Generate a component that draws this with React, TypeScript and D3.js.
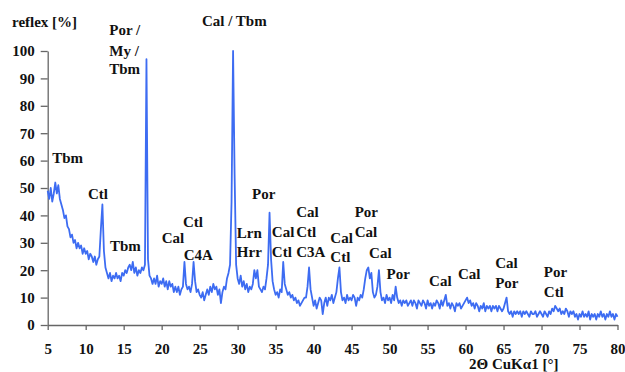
import React, { useEffect, useRef } from 'react';
import * as d3 from 'd3';

// 2-theta scan: first angle, step, intensities [%]
const START_ANGLE = 5;
const STEP = 0.2;
const reflex = [
  49, 46, 50, 45, 48, // 5
  52, 48, 51, 46, 44, // 6
  42, 39, 40, 36, 35, // 7
  32, 33, 30, 31, 28, // 8
  30, 28, 29, 26, 28, // 9
  26, 27, 24, 26, 25, // 10
  23, 25, 22, 24, 25, // 11
  35, 44, 27, 21, 19, // 12
  17, 19, 16, 18, 17, // 13
  19, 17, 18, 16, 19, // 14
  18, 20, 19, 21, 22, // 15
  20, 23, 19, 21, 18, // 16
  20, 19, 21, 20, 22, // 17
  97, 24, 18, 17, 15, // 18
  17, 15, 18, 14, 16, // 19
  15, 17, 14, 16, 13, // 20
  16, 14, 15, 12, 14, // 21
  12, 14, 11, 13, 14, // 22
  23, 15, 13, 14, 12, // 23
  15, 23, 16, 12, 13, // 24
  11, 10, 12, 9, 11, // 25
  13, 11, 14, 12, 15, // 26
  13, 14, 11, 13, 8, // 27
  12, 14, 13, 17, 19, // 28
  22, 45, 100, 55, 22, // 29
  17, 15, 18, 14, 16, // 30
  13, 15, 12, 14, 13, // 31
  15, 20, 17, 20, 14, // 32
  13, 12, 14, 13, 17, // 33
  22, 41, 24, 16, 13, // 34
  11, 12, 10, 13, 12, // 35
  23, 15, 13, 11, 12, // 36
  10, 11, 9, 10, 8, // 37
  9, 7, 8, 9, 10, // 38
  10, 14, 21, 13, 10, // 39
  7, 9, 6, 8, 10, // 40
  9, 4, 8, 10, 7, // 41
  10, 9, 11, 8, 10, // 42
  12, 17, 21, 12, 9, // 43
  10, 8, 11, 9, 10, // 44
  9, 11, 10, 7, 10, // 45
  9, 11, 10, 13, 17, // 46
  20, 21, 17, 19, 12, // 47
  10, 11, 14, 20, 12, // 48
  9, 10, 8, 11, 9, // 49
  10, 8, 11, 9, 14, // 50
  10, 8, 9, 7, 9, // 51
  8, 9, 7, 8, 9, // 52
  7, 9, 8, 6, 9, // 53
  8, 7, 9, 8, 6, // 54
  9, 7, 8, 6, 8, // 55
  7, 9, 8, 6, 9, // 56
  7, 9, 11, 7, 8, // 57
  6, 8, 7, 5, 8, // 58
  7, 8, 6, 7, 8, // 59
  9, 10, 8, 9, 7, // 60
  8, 6, 8, 7, 5, // 61
  7, 6, 8, 5, 7, // 62
  6, 7, 5, 7, 6, // 63
  7, 5, 7, 6, 5, // 64
  6, 8, 10, 5, 4, // 65
  5, 3, 5, 4, 5, // 66
  4, 5, 3, 5, 4, // 67
  5, 4, 3, 5, 4, // 68
  4, 5, 3, 4, 5, // 69
  4, 3, 5, 4, 3, // 70
  5, 4, 6, 5, 7, // 71
  6, 5, 6, 4, 5, // 72
  4, 6, 5, 3, 5, // 73
  4, 5, 3, 4, 2, // 74
  4, 3, 5, 3, 4, // 75
  3, 5, 2, 4, 3, // 76
  4, 2, 4, 3, 5, // 77
  3, 4, 2, 4, 3, // 78
  5, 3, 4, 2, 4, // 79
  3, // 80
];

const xTicks = [5, 10, 15, 20, 25, 30, 35, 40, 45, 50, 55, 60, 65, 70, 75, 80];
const yTicks = [0, 10, 20, 30, 40, 50, 60, 70, 80, 90, 100];

// phase labels: text, 2theta of left edge, reflex level of baseline
const phaseLabels: [string, number, number][] = [
  ['Tbm', 5.6, 59],
  ['Ctl', 10.3, 46],
  ['Por /', 13.1, 106],
  ['My /', 13.1, 98],
  ['Tbm', 13.1, 91.6],
  ['Tbm', 13.2, 27],
  ['Cal', 20.0, 30],
  ['Ctl', 22.8, 35.8],
  ['C4A', 22.9, 23.7],
  ['Cal / Tbm', 25.3, 109],
  ['Lrn', 29.9, 31.8],
  ['Hrr', 29.9, 24.8],
  ['Por', 31.9, 46],
  ['Cal', 34.5, 32.1],
  ['Ctl', 34.5, 24.8],
  ['Cal', 37.7, 39.4],
  ['Ctl', 37.7, 32.1],
  ['C3A', 37.7, 24.8],
  ['Cal', 42.2, 29.9],
  ['Ctl', 42.2, 23],
  ['Por', 45.4, 39.4],
  ['Cal', 45.4, 32.1],
  ['Cal', 47.3, 24.5],
  ['Por', 49.6, 16.8],
  ['Cal', 55.2, 14.2],
  ['Cal', 59.0, 16.8],
  ['Cal', 63.9, 20.8],
  ['Por', 63.9, 13.5],
  ['Por', 70.3, 17.5],
  ['Ctl', 70.3, 10.2],
];

const WIDTH = 625;
const HEIGHT = 372;
const FONT = 'Liberation Serif, DejaVu Serif, serif';
const LINE_COLOR = '#3d6cf2';
const AXIS_COLOR = '#666';

const App: React.FC = () => {
  const svgRef = useRef<SVGSVGElement>(null);

  useEffect(() => {
    document.body.style.margin = '0';
    const svg = d3.select(svgRef.current);
    svg.selectAll('*').remove();

    const x = d3.scaleLinear().domain([5, 80]).range([47.7, 617.5]);
    const y = d3.scaleLinear().domain([0, 100]).range([325, 51]);

    const points = reflex.map((v, i) => ({ angle: START_ANGLE + i * STEP, v }));

    const styleText = (sel: any) => sel
      .style('font-family', FONT)
      .style('font-weight', 'bold')
      .style('font-size', '15px')
      .attr('fill', '#111');

    // y axis
    svg.append('g')
      .attr('transform', `translate(${x(5)},0)`)
      .call(d3.axisLeft(y).tickValues(yTicks).tickSize(7).tickPadding(6).tickSizeOuter(0))
      .call(g => g.select('.domain').attr('stroke', AXIS_COLOR).attr('stroke-width', 1.3))
      .call(g => g.selectAll('.tick line').attr('stroke', AXIS_COLOR).attr('stroke-width', 1.3))
      .call(g => styleText(g.selectAll('.tick text')));

    // x axis
    svg.append('g')
      .attr('transform', `translate(0,${y(0)})`)
      .call(d3.axisBottom(x).tickValues(xTicks).tickSize(5).tickPadding(13).tickSizeOuter(0))
      .call(g => g.select('.domain').attr('stroke', AXIS_COLOR).attr('stroke-width', 1.3))
      .call(g => g.selectAll('.tick line').attr('stroke', AXIS_COLOR).attr('stroke-width', 1.3))
      .call(g => styleText(g.selectAll('.tick text')));

    // diffractogram
    const line = d3.line<{ angle: number; v: number }>()
      .x(d => x(d.angle))
      .y(d => y(d.v));

    svg.append('path')
      .datum(points)
      .attr('fill', 'none')
      .attr('stroke', LINE_COLOR)
      .attr('stroke-width', 1.8)
      .attr('stroke-linejoin', 'round')
      .attr('d', line);

    // phase labels
    svg.append('g')
      .selectAll('text')
      .data(phaseLabels)
      .enter()
      .append('text')
      .attr('x', d => x(d[1]))
      .attr('y', d => y(d[2]))
      .call(styleText)
      .text(d => d[0]);

    // axis titles
    svg.append('text')
      .attr('x', 12)
      .attr('y', 27)
      .call(styleText)
      .text('reflex [%]');

    svg.append('text')
      .attr('x', 469)
      .attr('y', 369)
      .call(styleText)
      .text('2Θ CuKα1 [°]');
  }, []);

  return <svg ref={svgRef} width={WIDTH} height={HEIGHT} style={{ display: 'block', background: '#fff' }} />;
};

export default App;
